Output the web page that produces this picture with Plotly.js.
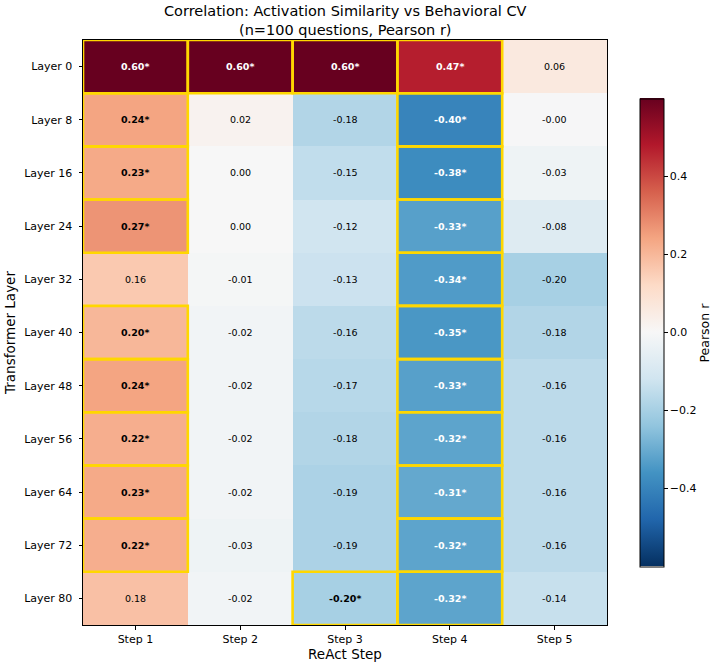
<!DOCTYPE html>
<html>
<head>
<meta charset="utf-8">
<script src="https://cdn.plot.ly/plotly-3.0.1.min.js"></script>
<style>body{margin:0;background:#fff;} #chart{width:720px;height:670px;}</style>
</head>
<body>
<div id="chart"></div>
<script>
const steps = ["Step 1", "Step 2", "Step 3", "Step 4", "Step 5"];
const layers = ["Layer 0", "Layer 8", "Layer 16", "Layer 24", "Layer 32", "Layer 40", "Layer 48", "Layer 56", "Layer 64", "Layer 72", "Layer 80"];
const pearsonR = [
  [0.60, 0.60, 0.60, 0.47, 0.06],
  [0.24, 0.02, -0.18, -0.40, -0.004],
  [0.23, 0.00, -0.15, -0.38, -0.03],
  [0.27, 0.00, -0.12, -0.33, -0.08],
  [0.16, -0.01, -0.13, -0.34, -0.20],
  [0.20, -0.02, -0.16, -0.35, -0.18],
  [0.24, -0.02, -0.17, -0.33, -0.16],
  [0.22, -0.02, -0.18, -0.32, -0.16],
  [0.23, -0.02, -0.19, -0.31, -0.16],
  [0.22, -0.03, -0.19, -0.32, -0.16],
  [0.18, -0.02, -0.20, -0.32, -0.14]
];
const significant = [
  [1, 1, 1, 1, 0],
  [1, 0, 0, 1, 0],
  [1, 0, 0, 1, 0],
  [1, 0, 0, 1, 0],
  [0, 0, 0, 1, 0],
  [1, 0, 0, 1, 0],
  [1, 0, 0, 1, 0],
  [1, 0, 0, 1, 0],
  [1, 0, 0, 1, 0],
  [1, 0, 0, 1, 0],
  [0, 0, 1, 1, 0]
];
const colorTicks = [-0.4, -0.2, 0.0, 0.2, 0.4];
const titleLines = ['Correlation: Activation Similarity vs Behavioral CV', '(n=100 questions, Pearson r)'];

const rdbuR = [
  [0.0, '#053061'], [0.1, '#2166ac'], [0.2, '#4393c3'], [0.3, '#92c5de'],
  [0.4, '#d1e5f0'], [0.5, '#f7f7f7'], [0.6, '#fddbc7'], [0.7, '#f4a582'],
  [0.8, '#d6604d'], [0.9, '#b2182b'], [1.0, '#67001f']
];

const annotations = [];
const shapes = [];
layers.forEach((ly, i) => {
  steps.forEach((st, j) => {
    const v = pearsonR[i][j];
    const sig = significant[i][j] === 1;
    const txt = v.toFixed(2) + (sig ? '*' : '');
    annotations.push({
      x: j, y: i, xref: 'x', yref: 'y', showarrow: false,
      text: sig ? '<b>' + txt + '</b>' : txt,
      font: {family: 'DejaVu Sans', size: 9.5, color: Math.abs(v) > 0.3 ? '#ffffff' : '#000000'}
    });
    if (sig) {
      shapes.push({
        type: 'rect', xref: 'x', yref: 'y',
        x0: j - 0.5, x1: j + 0.5, y0: i - 0.5, y1: i + 0.5,
        line: {color: '#FFD700', width: 2.6}, fillcolor: 'rgba(0,0,0,0)', layer: 'above'
      });
    }
  });
});

annotations.push({
  text: 'Pearson r', textangle: -90, showarrow: false,
  xref: 'paper', yref: 'paper', x: 1.187, y: 0.5, xanchor: 'center', yanchor: 'middle',
  font: {family: 'DejaVu Sans', size: 12.5, color: '#000'}
});
annotations.push({
  text: titleLines.join('<br>'), showarrow: false,
  xref: 'paper', yref: 'paper', x: 0.5, y: 1.066, xanchor: 'center', yanchor: 'top',
  font: {family: 'DejaVu Sans', size: 14.5, color: '#000'}
});

const trace = {
  type: 'heatmap',
  z: pearsonR,
  x: steps.map((_, j) => j),
  y: layers.map((_, i) => i),
  zmin: -0.6, zmax: 0.6,
  colorscale: rdbuR,
  hoverinfo: 'skip',
  colorbar: {
    x: 1.063, xanchor: 'left', xpad: 0, ypad: 0,
    y: 0.5, yanchor: 'middle', len: 0.8, lenmode: 'fraction',
    thickness: 24, outlinewidth: 1, outlinecolor: '#000',
    tickvals: colorTicks, tickformat: '.1f', ticks: 'outside', ticklen: 3.5, tickcolor: '#000',
    tickfont: {family: 'DejaVu Sans', size: 11, color: '#000'}
  }
};

const layout = {
  width: 720, height: 670,
  margin: {l: 83, r: 113, t: 40, b: 45},
  paper_bgcolor: '#fff', plot_bgcolor: '#fff',
  font: {family: 'DejaVu Sans', color: '#000'},
  xaxis: {
    tickvals: steps.map((_, j) => j), ticktext: steps,
    range: [-0.5, steps.length - 0.5],
    ticks: 'outside', ticklen: 3.5, tickcolor: '#000',
    showline: true, linecolor: '#000', linewidth: 1, mirror: true,
    showgrid: false, zeroline: false,
    tickfont: {family: 'DejaVu Sans', size: 11},
    title: {text: 'ReAct Step', standoff: 4, font: {family: 'DejaVu Sans', size: 13.5}}
  },
  yaxis: {
    tickvals: layers.map((_, i) => i), ticktext: layers,
    range: [layers.length - 0.5, -0.5],
    ticks: 'outside', ticklen: 3.5, tickcolor: '#000',
    showline: true, linecolor: '#000', linewidth: 1, mirror: true,
    showgrid: false, zeroline: false, ticklabelstandoff: 4,
    tickfont: {family: 'DejaVu Sans', size: 11},
    title: {text: 'Transformer Layer', standoff: 5, font: {family: 'DejaVu Sans', size: 13.5}}
  },
  annotations: annotations,
  shapes: shapes
};

Plotly.newPlot('chart', [trace], layout, {displayModeBar: false, staticPlot: true});
</script>
</body>
</html>
